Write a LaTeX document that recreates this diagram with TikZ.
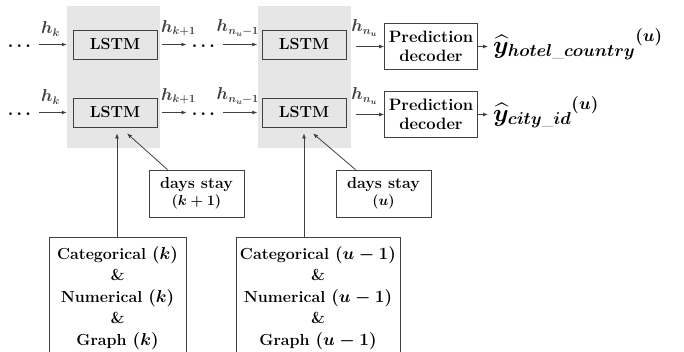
\documentclass[tikz,border=0pt]{standalone}
\usepackage{amsmath,amssymb}
\usepackage{xcolor}
\usepackage{tikz}
\usetikzlibrary{arrows.meta,positioning}

\definecolor{panelgray}{HTML}{E6E6E6}
\definecolor{linegray}{HTML}{404040}

\begin{document}
\begin{tikzpicture}[x=1pt,y=-1pt,
    font=\fontsize{16}{18}\selectfont\bfseries\boldmath,
    box/.style={draw=linegray,line width=0.8pt,align=center,inner sep=0pt},
    lstm/.style={box,fill=panelgray,minimum width=84pt,minimum height=29pt},
    decoder/.style={box,fill=white,minimum width=93pt,minimum height=46pt,
        font=\fontsize{16.5}{19}\selectfont\bfseries\boldmath},
    daysbox/.style={box,fill=white,minimum width=95pt,minimum height=47pt},
    featbox/.style={box,fill=white,anchor=north,inner ysep=9pt,
        font=\fontsize{16}{21.5}\selectfont\bfseries\boldmath},
    panel/.style={fill=panelgray,minimum width=93pt,minimum height=142pt,inner sep=0pt},
    arr/.style={-{Latex[length=5pt,width=4pt]},linegray,line width=0.8pt},
    lbl/.style={inner sep=0pt},
    outtext/.style={inner sep=0pt,anchor=base west,font=\fontsize{24}{28}\selectfont\boldmath}
]
\clip (0,0) rectangle (684,351);

% shaded time steps
\node[panel] (panelA) at (113.5,77) {};
\node[panel] (panelB) at (304,77) {};

% two task rows
\foreach \r/\y in {1/44.5,2/112.5} {
    \node[lstm] (lstmA\r) at (115,\y) {LSTM};
    \node[lstm] (lstmB\r) at (304,\y) {LSTM};
    \node[decoder] (dec\r) at (431,\y+2) {Prediction\\decoder};
    \node[lbl] (dotsL\r) at (21,\y+1.5) {$\cdots$};
    \node[lbl] (dotsM\r) at (205,\y+1.5) {$\cdots$};

    \draw[arr,shorten <=5pt] (dotsL\r.east |- lstmA\r) -- (lstmA\r -| panelA.west)
        node[midway,above=8pt,lbl] (hk\r) {$h_k$};
    \draw[arr,shorten <=5pt,shorten >=5pt] (lstmA\r.east) -- (dotsM\r.west |- lstmA\r)
        node[midway,above=8pt,lbl,xshift=4pt] (hkk\r) {$h_{k+1}$};
    \draw[arr,shorten <=5pt] (dotsM\r.east |- lstmB\r) -- (lstmB\r -| panelB.west)
        node[midway,above=8pt,lbl] (hnm\r) {$h_{n_u-1}$};
    \draw[arr,shorten <=5pt] (dec\r -| panelB.east) -- (dec\r.west)
        node[midway,above=10pt,lbl,xshift=-3pt] (hn\r) {$h_{n_u}$};
}

% outputs
\node[outtext] (out1) at (493,53) {$\mbox{$\widehat{y}_{hotel\_country}$}^{(u)}$};
\node[outtext] (out2) at (493,121) {$\mbox{$\widehat{y}_{city\_id}$}^{(u)}$};
\draw[arr,shorten >=5pt] (dec1.east) -- (dec1.east -| out1.west);
\draw[arr,shorten >=5pt] (dec2.east) -- (dec2.east -| out2.west);

% inputs
\node[daysbox] (days1) at (196.5,193.5) {days stay\\[-1pt]{\fontsize{14}{15}\selectfont$(k+1)$}};
\node[daysbox] (days2) at (383.5,193.5) {days stay\\[-1pt]{\fontsize{14}{15}\selectfont$(u)$}};

\node[featbox,minimum width=137pt] (feat1) at (117.5,237)
    {Categorical $(k)$\\ \&\\ Numerical $(k)$\\ \&\\ Graph $(k)$};
\node[featbox,minimum width=164pt] (feat2) at (318,237)
    {Categorical $(u-1)$\\ \&\\ Numerical $(u-1)$\\ \&\\ Graph $(u-1)$};

\draw[arr] (feat1.north -| lstmA2.south) ++(2,0) -- ([xshift=2pt,yshift=-6pt]lstmA2.south);
\draw[arr] (feat2.north -| lstmB2.south) -- ([yshift=-6pt]lstmB2.south);
\draw[arr] ([xshift=-29pt]days1.north) -- ([xshift=12pt,yshift=-6pt]lstmA2.south);
\draw[arr] ([xshift=-28pt]days2.north) -- ([xshift=9pt,yshift=-6pt]lstmB2.south);
\end{tikzpicture}
\end{document}
